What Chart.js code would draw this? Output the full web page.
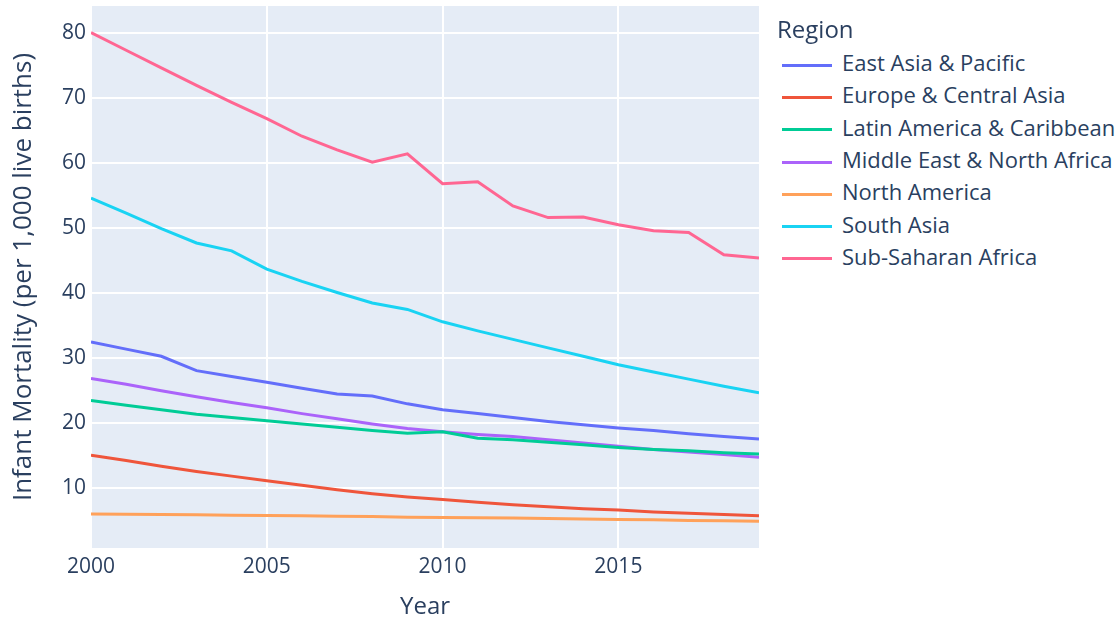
<!DOCTYPE html>
<html>
<head>
<meta charset="utf-8">
<script src="https://cdn.jsdelivr.net/npm/chart.js@4.4.1/dist/chart.umd.min.js"></script>
<style>
  body { margin: 0; background: #fff; font-family: "Open Sans", sans-serif; }
  #wrap { position: relative; width: 1118px; height: 620px; }
  #caja { position: absolute; left: 0; top: 0; width: 780px; height: 620px; }
  #leyenda { position: absolute; left: 777px; top: 0; color: #2a3f5f; }
  #leyenda .titulo { position: absolute; top: 13px; left: 0; font-size: 24px; white-space: nowrap; line-height: 32px; }
  #leyenda .item { position: absolute; left: 5px; height: 32px; white-space: nowrap; font-size: 22px; line-height: 32px; }
  #leyenda .muestra { display: inline-block; width: 50px; height: 3px; vertical-align: middle; margin-right: 10px; }
</style>
</head>
<body>
<div id="wrap">
  <div id="caja"><canvas id="grafico"></canvas></div>
  <div id="leyenda"></div>
</div>
<script>
const years = [2000, 2001, 2002, 2003, 2004, 2005, 2006, 2007, 2008, 2009, 2010, 2011, 2012, 2013, 2014, 2015, 2016, 2017, 2018, 2019]
const regiones = ["East Asia & Pacific", "Europe & Central Asia", "Latin America & Caribbean", "Middle East & North Africa", "North America", "South Asia", "Sub-Saharan Africa"]
const colores = ["#636efa", "#EF553B", "#00cc96", "#ab63fa", "#FFA15A", "#19d3f3", "#FF6692"]

const eastAsia = [32.5, 31.4, 30.3, 28.1, 27.2, 26.3, 25.4, 24.5, 24.2, 23.0, 22.1, 21.5, 20.9, 20.3, 19.8, 19.3, 18.9, 18.4, 18.0, 17.6]
const europe = [15.1, 14.3, 13.4, 12.6, 11.9, 11.2, 10.5, 9.8, 9.2, 8.7, 8.3, 7.9, 7.5, 7.2, 6.9, 6.7, 6.4, 6.2, 6.0, 5.8]
const latinAmerica = [23.5, 22.8, 22.1, 21.4, 20.9, 20.4, 19.9, 19.4, 18.9, 18.5, 18.7, 17.7, 17.5, 17.1, 16.7, 16.3, 16.0, 15.8, 15.5, 15.3]
const middleEast = [26.9, 26.0, 25.0, 24.1, 23.2, 22.4, 21.5, 20.7, 19.9, 19.2, 18.7, 18.3, 18.0, 17.5, 17.0, 16.5, 16.0, 15.6, 15.2, 14.8]
const northAmerica = [6.1, 6.05, 6.0, 5.95, 5.9, 5.85, 5.8, 5.75, 5.7, 5.6, 5.55, 5.5, 5.45, 5.4, 5.3, 5.25, 5.2, 5.1, 5.05, 4.95]
const southAsia = [54.6, 52.3, 49.9, 47.7, 46.5, 43.7, 41.8, 40.1, 38.5, 37.5, 35.6, 34.2, 32.9, 31.6, 30.3, 29.0, 27.9, 26.8, 25.7, 24.7]
const subSaharan = [80.0, 77.3, 74.6, 71.9, 69.3, 66.8, 64.1, 62.0, 60.1, 61.4, 56.8, 57.1, 53.4, 51.6, 51.7, 50.5, 49.6, 49.3, 45.9, 45.4]

const xTicks = [2000, 2005, 2010, 2015]
const yTicks = [10, 20, 30, 40, 50, 60, 70, 80]

const series = [eastAsia, europe, latinAmerica, middleEast, northAmerica, southAsia, subSaharan]
const textoColor = "#2a3f5f"

// fondo azul claro del área del gráfico
const fondo = {
    id: "fondo",
    beforeDraw(chart) {
        const {ctx, chartArea} = chart
        ctx.save()
        ctx.fillStyle = "#E5ECF6"
        ctx.fillRect(chartArea.left, chartArea.top, chartArea.right - chartArea.left, chartArea.bottom - chartArea.top)
        ctx.restore()
    }
}

const datasets = series.map((valores, i) => ({
    label: regiones[i],
    data: valores.map((v, j) => ({x: years[j], y: v})),
    borderColor: colores[i],
    backgroundColor: colores[i],
    borderWidth: 3,
    pointRadius: 0,
    tension: 0,
    fill: false
}))

const ctx = document.getElementById("grafico").getContext("2d")
new Chart(ctx, {
    type: "line",
    data: { datasets: datasets },
    plugins: [fondo],
    options: {
        responsive: true,
        maintainAspectRatio: false,
        animation: false,
        layout: { padding: { top: 6, right: 21, left: 0, bottom: 0 } },
        plugins: {
            legend: { display: false },
            tooltip: { enabled: false }
        },
        scales: {
            x: {
                type: "linear",
                min: 2000,
                max: 2019,
                afterBuildTicks: axis => { axis.ticks = xTicks.map(v => ({value: v})) },
                afterFit: axis => { axis.height = 72; axis.paddingLeft = 0; axis.paddingRight = 0 },
                grid: { color: "#ffffff", lineWidth: 2, drawTicks: false },
                border: { display: false },
                ticks: {
                    color: textoColor,
                    font: { family: "Open Sans", size: 21 },
                    padding: 6,
                    maxRotation: 0,
                    callback: v => String(v)
                },
                title: {
                    display: true,
                    text: "Year",
                    color: textoColor,
                    font: { family: "Open Sans", size: 24, lineHeight: 1 },
                    padding: { top: 0, bottom: 1 }
                }
            },
            y: {
                min: 0.86,
                max: 84.1,
                afterBuildTicks: axis => { axis.ticks = yTicks.map(v => ({value: v})) },
                afterFit: axis => { axis.width = 91; axis.paddingTop = 0; axis.paddingBottom = 0 },
                grid: { color: "#ffffff", lineWidth: 2, drawTicks: false },
                border: { display: false },
                ticks: {
                    color: textoColor,
                    font: { family: "Open Sans", size: 21 },
                    padding: 5
                },
                title: {
                    display: true,
                    text: "Infant Mortality (per 1,000 live births)",
                    color: textoColor,
                    font: { family: "Open Sans", size: 26, lineHeight: 1.2 },
                    padding: { top: 8, bottom: 0 }
                }
            }
        }
    }
})

// leyenda a la derecha
const leyenda = document.getElementById("leyenda")
leyenda.innerHTML = '<div class="titulo">Region</div>'
regiones.forEach((nombre, i) => {
    const fila = document.createElement("div")
    fila.className = "item"
    fila.style.top = (46 + i * 32.3) + "px"
    fila.innerHTML = `<span class="muestra" style="background:${colores[i]}"></span>${nombre}`
    leyenda.appendChild(fila)
})
</script>
</body>
</html>
